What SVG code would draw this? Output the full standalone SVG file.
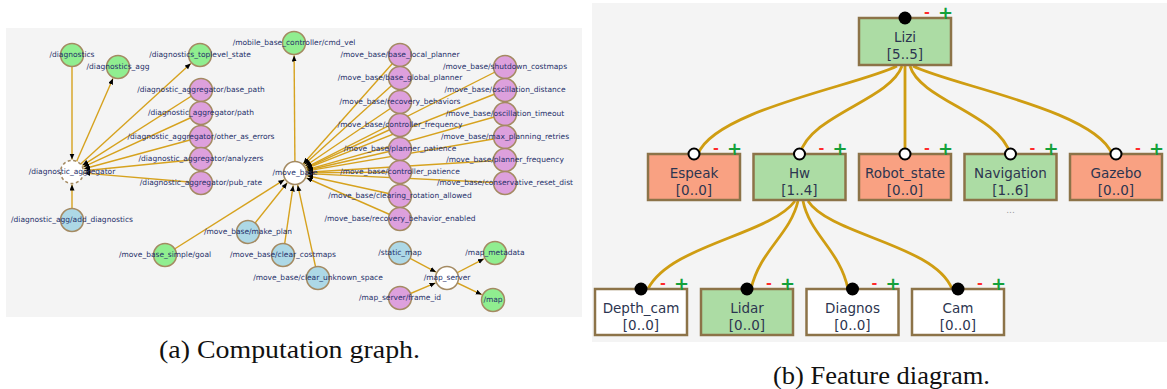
<svg xmlns="http://www.w3.org/2000/svg" width="1167" height="389" viewBox="0 0 1167 389">
  <style>
    .panel { fill: #f4f4f4; }
    .lbl { font-family: "DejaVu Sans", sans-serif; font-size: 7.5px; fill: #25306a; text-anchor: middle; }
    .c { stroke: #a48a62; stroke-width: 1.5; }
    .green { fill: #90ee90; }
    .pink { fill: #dda0dd; }
    .blue { fill: #add8e6; }
    .white { fill: #ffffff; }
    .dash { stroke-dasharray: 3 2.5; }
    .edge { stroke: #d6a21e; stroke-width: 1.4; fill: none; marker-end: url(#arr); }
    .fbox { stroke: #8c7348; stroke-width: 2.5; }
    .fg { fill: #acdca4; }
    .fo { fill: #f9a182; }
    .fw { fill: #ffffff; }
    .ftxt { font-family: "DejaVu Sans", sans-serif; font-size: 13.5px; fill: #2c3550; text-anchor: middle; }
    .link { stroke: #cf9d12; stroke-width: 2.8; fill: none; }
    .mand { fill: #000000; }
    .opt { fill: #ffffff; stroke: #000000; stroke-width: 2; }
    .minus { font-family: "DejaVu Sans", sans-serif; font-weight: bold; font-size: 14px; fill: #ff2a2a; text-anchor: middle; }
    .plus { font-family: "DejaVu Sans", sans-serif; font-weight: bold; font-size: 18px; fill: #14a03a; text-anchor: middle; }
    .cap { font-family: "Liberation Serif", serif; font-size: 25px; fill: #111111; }
  </style>
  <defs>
    <marker id="arr" markerUnits="userSpaceOnUse" markerWidth="7" markerHeight="6" refX="6" refY="2.5" orient="auto">
      <path d="M0,0 L6,2.5 L0,5 z" fill="#000000"/>
    </marker>
  </defs>

  <rect width="1167" height="389" fill="#ffffff"/>
  <rect class="panel" x="6" y="28" width="576" height="289"/>
  <rect class="panel" x="592" y="3" width="575" height="339"/>

  <!-- computation graph: connectors -->
  <g id="graph-edges">
    <line class="edge" x1="72" y1="55" x2="72" y2="159.5"/>
    <line class="edge" x1="72" y1="172" x2="113" y2="78.5"/>
    <line class="edge" x1="72" y1="172" x2="190.8" y2="63.4"/>
    <line class="edge" x1="201" y1="90" x2="82.5" y2="165.3"/>
    <line class="edge" x1="201" y1="113" x2="83.4" y2="166.8"/>
    <line class="edge" x1="201" y1="137" x2="84.1" y2="168.7"/>
    <line class="edge" x1="201" y1="159" x2="84.4" y2="170.7"/>
    <line class="edge" x1="201" y1="183" x2="84.5" y2="173.1"/>
    <line class="edge" x1="72" y1="220" x2="72" y2="184.5"/>

    <line class="edge" x1="295" y1="173" x2="294.1" y2="55.5"/>
    <line class="edge" x1="400" y1="55" x2="303.3" y2="163.7"/>
    <line class="edge" x1="400" y1="78" x2="304.3" y2="164.6"/>
    <line class="edge" x1="400" y1="102" x2="305.3" y2="166"/>
    <line class="edge" x1="400" y1="125" x2="306.4" y2="167.8"/>
    <line class="edge" x1="400" y1="149" x2="307.2" y2="170.2"/>
    <line class="edge" x1="400" y1="172" x2="307.5" y2="172.9"/>
    <line class="edge" x1="400" y1="196" x2="307.2" y2="175.7"/>
    <line class="edge" x1="400" y1="219" x2="306.5" y2="178"/>
    <line class="edge" x1="505" y1="67" x2="306.2" y2="167.4"/>
    <line class="edge" x1="505" y1="90" x2="306.6" y2="168.4"/>
    <line class="edge" x1="505" y1="114" x2="307" y2="169.6"/>
    <line class="edge" x1="505" y1="137" x2="307.3" y2="170.9"/>
    <line class="edge" x1="505" y1="160" x2="307.5" y2="172.2"/>
    <line class="edge" x1="505" y1="183" x2="307.5" y2="173.6"/>
    <line class="edge" x1="165" y1="255" x2="284.4" y2="179.7"/>
    <line class="edge" x1="248" y1="232" x2="287.2" y2="182.8"/>
    <line class="edge" x1="283" y1="255" x2="293.2" y2="185.4"/>
    <line class="edge" x1="318" y1="278" x2="297.7" y2="185.2"/>

    <line class="edge" x1="400" y1="253" x2="436" y2="272.1"/>
    <line class="edge" x1="400" y1="298" x2="435.5" y2="282.9"/>
    <line class="edge" x1="447" y1="278" x2="483.9" y2="258.8"/>
    <line class="edge" x1="447" y1="278" x2="481.7" y2="294.6"/>
  </g>

  <!-- computation graph: nodes -->
  <g id="n-diagnostics"><circle class="c green" cx="72" cy="55" r="11.5"/><text class="lbl" x="72" y="56.5">/diagnostics</text></g>
  <g id="n-diagnostics-agg"><circle class="c green" cx="118" cy="67" r="11.5"/><text class="lbl" x="118" y="68.5">/diagnostics_agg</text></g>
  <g id="n-toplevel"><circle class="c green" cx="200" cy="55" r="11.5"/><text class="lbl" x="200" y="56.5">/diagnostics_toplevel_state</text></g>
  <g id="n-base-path"><circle class="c pink" cx="201" cy="90" r="11.5"/><text class="lbl" x="201" y="91.5">/diagnostic_aggregator/base_path</text></g>
  <g id="n-path"><circle class="c pink" cx="201" cy="113" r="11.5"/><text class="lbl" x="201" y="114.5">/diagnostic_aggregator/path</text></g>
  <g id="n-other"><circle class="c pink" cx="201" cy="137" r="11.5"/><text class="lbl" x="201" y="138.5">/diagnostic_aggregator/other_as_errors</text></g>
  <g id="n-analyzers"><circle class="c pink" cx="201" cy="159" r="11.5"/><text class="lbl" x="201" y="160.5">/diagnostic_aggregator/analyzers</text></g>
  <g id="n-pub-rate"><circle class="c pink" cx="201" cy="183" r="11.5"/><text class="lbl" x="201" y="184.5">/diagnostic_aggregator/pub_rate</text></g>
  <g id="n-aggregator"><circle class="c white dash" cx="72" cy="172" r="11.5"/><text class="lbl" x="72" y="173.5">/diagnostic_aggregator</text></g>
  <g id="n-add-diag"><circle class="c blue" cx="72" cy="220" r="11.5"/><text class="lbl" x="72" y="221.5">/diagnostic_agg/add_diagnostics</text></g>

  <g id="n-cmd-vel"><circle class="c green" cx="294" cy="43" r="11.5"/><text class="lbl" x="294" y="44.5">/mobile_base_controller/cmd_vel</text></g>
  <g id="n-move-base"><circle class="c white" cx="295" cy="173" r="11.5"/><text class="lbl" x="295" y="174.5">/move_base</text></g>

  <g id="n-base-local"><circle class="c pink" cx="400" cy="55" r="11.5"/><text class="lbl" x="400" y="56.5">/move_base/base_local_planner</text></g>
  <g id="n-base-global"><circle class="c pink" cx="400" cy="78" r="11.5"/><text class="lbl" x="400" y="79.5">/move_base/base_global_planner</text></g>
  <g id="n-recovery"><circle class="c pink" cx="400" cy="102" r="11.5"/><text class="lbl" x="400" y="103.5">/move_base/recovery_behaviors</text></g>
  <g id="n-ctrl-freq"><circle class="c pink" cx="400" cy="125" r="11.5"/><text class="lbl" x="400" y="126.5">/move_base/controller_frequency</text></g>
  <g id="n-plan-pat"><circle class="c pink" cx="400" cy="149" r="11.5"/><text class="lbl" x="400" y="150.5">/move_base/planner_patience</text></g>
  <g id="n-ctrl-pat"><circle class="c pink" cx="400" cy="172" r="11.5"/><text class="lbl" x="400" y="173.5">/move_base/controller_patience</text></g>
  <g id="n-clear-rot"><circle class="c pink" cx="400" cy="196" r="11.5"/><text class="lbl" x="400" y="197.5">/move_base/clearing_rotation_allowed</text></g>
  <g id="n-rec-enabled"><circle class="c pink" cx="400" cy="219" r="11.5"/><text class="lbl" x="400" y="220.5">/move_base/recovery_behavior_enabled</text></g>

  <g id="n-shutdown"><circle class="c pink" cx="505" cy="67" r="11.5"/><text class="lbl" x="505" y="68.5">/move_base/shutdown_costmaps</text></g>
  <g id="n-osc-dist"><circle class="c pink" cx="505" cy="90" r="11.5"/><text class="lbl" x="505" y="91.5">/move_base/oscillation_distance</text></g>
  <g id="n-osc-time"><circle class="c pink" cx="505" cy="114" r="11.5"/><text class="lbl" x="505" y="115.5">/move_base/oscillation_timeout</text></g>
  <g id="n-max-retries"><circle class="c pink" cx="505" cy="137" r="11.5"/><text class="lbl" x="505" y="138.5">/move_base/max_planning_retries</text></g>
  <g id="n-plan-freq"><circle class="c pink" cx="505" cy="160" r="11.5"/><text class="lbl" x="505" y="161.5">/move_base/planner_frequency</text></g>
  <g id="n-reset-dist"><circle class="c pink" cx="505" cy="183" r="11.5"/><text class="lbl" x="505" y="184.5">/move_base/conservative_reset_dist</text></g>

  <g id="n-goal"><circle class="c green" cx="165" cy="255" r="11.5"/><text class="lbl" x="165" y="256.5">/move_base_simple/goal</text></g>
  <g id="n-make-plan"><circle class="c blue" cx="248" cy="232" r="11.5"/><text class="lbl" x="248" y="233.5">/move_base/make_plan</text></g>
  <g id="n-clear-cost"><circle class="c blue" cx="283" cy="255" r="11.5"/><text class="lbl" x="283" y="256.5">/move_base/clear_costmaps</text></g>
  <g id="n-clear-unk"><circle class="c blue" cx="318" cy="278" r="11.5"/><text class="lbl" x="318" y="279.5">/move_base/clear_unknown_space</text></g>

  <g id="n-static-map"><circle class="c blue" cx="400" cy="253" r="11.5"/><text class="lbl" x="400" y="254.5">/static_map</text></g>
  <g id="n-frame-id"><circle class="c pink" cx="400" cy="298" r="11.5"/><text class="lbl" x="400" y="299.5">/map_server/frame_id</text></g>
  <g id="n-map-server"><circle class="c white" cx="447" cy="278" r="11.5"/><text class="lbl" x="447" y="279.5">/map_server</text></g>
  <g id="n-map-meta"><circle class="c green" cx="495" cy="253" r="11.5"/><text class="lbl" x="495" y="254.5">/map_metadata</text></g>
  <g id="n-map"><circle class="c green" cx="493" cy="300" r="11.5"/><text class="lbl" x="493" y="301.5">/map</text></g>

  <!-- feature diagram: connectors -->
  <g id="feature-links">
    <path class="link" d="M897,66 C860,85 715,110 698,154"/>
    <path class="link" d="M902,66 C890,100 810,115 800,154"/>
    <path class="link" d="M905,66 L905,154"/>
    <path class="link" d="M910,66 C920,100 1000,115 1010,154"/>
    <path class="link" d="M913,66 C950,85 1095,110 1112,154"/>
    <path class="link" d="M795,201 C770,235 670,245 648,289"/>
    <path class="link" d="M798,201 C790,235 760,250 751,289"/>
    <path class="link" d="M803,201 C810,235 840,250 848,289"/>
    <path class="link" d="M808,201 C830,235 935,245 952,289"/>
  </g>

  <!-- feature diagram: features -->
  <g id="f-lizi">
    <rect class="fbox fg" x="859" y="18" width="92" height="47"/>
    <text class="ftxt" x="905" y="42">Lizi</text><text class="ftxt" x="905" y="59">[5..5]</text>
    <circle class="mand" cx="905" cy="18" r="6.5"/>
    <text class="minus" x="927" y="17">-</text><text class="plus" x="945.5" y="19">+</text>
  </g>
  <g id="f-espeak">
    <rect class="fbox fo" x="648" y="154" width="92" height="46"/>
    <text class="ftxt" x="694" y="178">Espeak</text><text class="ftxt" x="694" y="195">[0..0]</text>
    <circle class="opt" cx="694" cy="154" r="5.5"/>
    <text class="minus" x="716" y="153">-</text><text class="plus" x="734.5" y="155">+</text>
  </g>
  <g id="f-hw">
    <rect class="fbox fg" x="753.5" y="154" width="92" height="46"/>
    <text class="ftxt" x="799.5" y="178">Hw</text><text class="ftxt" x="799.5" y="195">[1..4]</text>
    <circle class="opt" cx="799.5" cy="154" r="5.5"/>
    <text class="minus" x="821.5" y="153">-</text><text class="plus" x="840" y="155">+</text>
  </g>
  <g id="f-robot-state">
    <rect class="fbox fo" x="859" y="154" width="92" height="46"/>
    <text class="ftxt" x="905" y="178">Robot_state</text><text class="ftxt" x="905" y="195">[0..0]</text>
    <circle class="opt" cx="905" cy="154" r="5.5"/>
    <text class="minus" x="927" y="153">-</text><text class="plus" x="945.5" y="155">+</text>
  </g>
  <g id="f-navigation">
    <rect class="fbox fg" x="964.5" y="154" width="92" height="46"/>
    <text class="ftxt" x="1010.5" y="178">Navigation</text><text class="ftxt" x="1010.5" y="195">[1..6]</text>
    <circle class="opt" cx="1010.5" cy="154" r="5.5"/>
    <text class="minus" x="1032.5" y="153">-</text><text class="plus" x="1051" y="155">+</text>
    <text x="1010.5" y="213" font-family="DejaVu Sans, sans-serif" font-size="9" fill="#9a9a9a" text-anchor="middle">...</text>
  </g>
  <g id="f-gazebo">
    <rect class="fbox fo" x="1070" y="154" width="92" height="46"/>
    <text class="ftxt" x="1116" y="178">Gazebo</text><text class="ftxt" x="1116" y="195">[0..0]</text>
    <circle class="opt" cx="1116" cy="154" r="5.5"/>
    <text class="minus" x="1138" y="153">-</text><text class="plus" x="1156.5" y="155">+</text>
  </g>
  <g id="f-depth-cam">
    <rect class="fbox fw" x="595" y="289" width="92" height="46"/>
    <text class="ftxt" x="641" y="313">Depth_cam</text><text class="ftxt" x="641" y="330">[0..0]</text>
    <circle class="mand" cx="641" cy="289" r="6.5"/>
    <text class="minus" x="663" y="288">-</text><text class="plus" x="681.5" y="290">+</text>
  </g>
  <g id="f-lidar">
    <rect class="fbox fg" x="701" y="289" width="92" height="46"/>
    <text class="ftxt" x="747" y="313">Lidar</text><text class="ftxt" x="747" y="330">[0..0]</text>
    <circle class="mand" cx="747" cy="289" r="6.5"/>
    <text class="minus" x="769" y="288">-</text><text class="plus" x="787.5" y="290">+</text>
  </g>
  <g id="f-diagnos">
    <rect class="fbox fw" x="806.5" y="289" width="92" height="46"/>
    <text class="ftxt" x="852.5" y="313">Diagnos</text><text class="ftxt" x="852.5" y="330">[0..0]</text>
    <circle class="mand" cx="852.5" cy="289" r="6.5"/>
    <text class="minus" x="874.5" y="288">-</text><text class="plus" x="893" y="290">+</text>
  </g>
  <g id="f-cam">
    <rect class="fbox fw" x="912" y="289" width="92" height="46"/>
    <text class="ftxt" x="958" y="313">Cam</text><text class="ftxt" x="958" y="330">[0..0]</text>
    <circle class="mand" cx="958" cy="289" r="6.5"/>
    <text class="minus" x="980" y="288">-</text><text class="plus" x="998.5" y="290">+</text>
  </g>

  <!-- captions -->
  <text class="cap" x="159" y="358" textLength="261" lengthAdjust="spacingAndGlyphs">(a) Computation graph.</text>
  <text class="cap" x="773" y="384" textLength="217" lengthAdjust="spacingAndGlyphs">(b) Feature diagram.</text>
</svg>
